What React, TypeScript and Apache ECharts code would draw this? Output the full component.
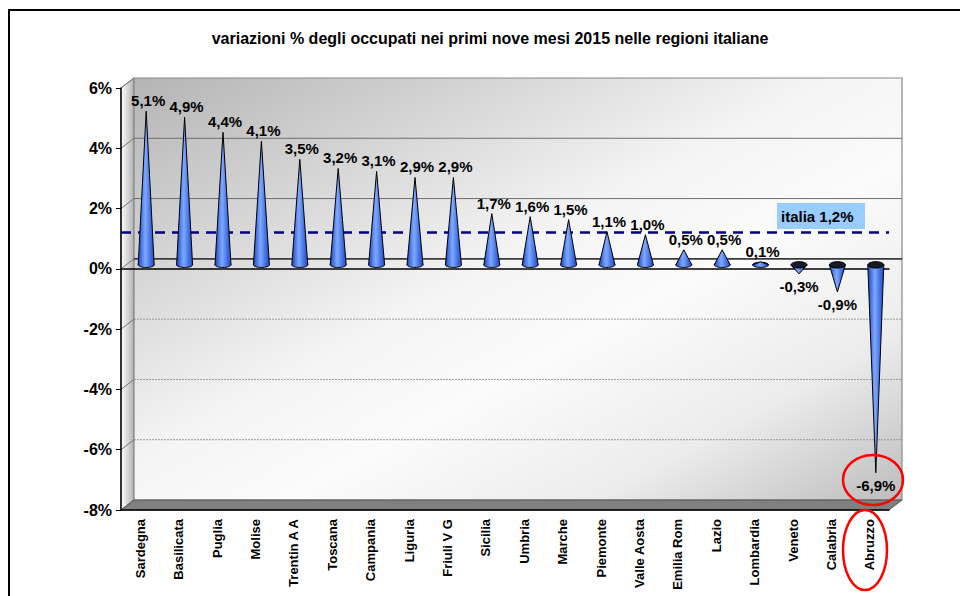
import React, { useEffect, useRef } from 'react';
import * as echarts from 'echarts';

const chartTitle = 'variazioni % degli occupati nei primi nove mesi 2015 nelle regioni italiane';
const regions = [
  'Sardegna', 'Basilicata', 'Puglia', 'Molise', 'Trentin A A', 'Toscana', 'Campania',
  'Liguria', 'Friuli V G', 'Sicilia', 'Umbria', 'Marche', 'Piemonte', 'Valle Aosta',
  'Emilia Rom', 'Lazio', 'Lombardia', 'Veneto', 'Calabria', 'Abruzzo',
];
const values = [5.1, 4.9, 4.4, 4.1, 3.5, 3.2, 3.1, 2.9, 2.9, 1.7, 1.6, 1.5, 1.1, 1.0, 0.5, 0.5, 0.1, -0.3, -0.9, -6.9];
const yTicks = [-8, -6, -4, -2, 0, 2, 4, 6];
const nationalValue = 1.2;
const nationalLabel = 'italia 1,2%';

const fmt = (v: number) => v.toFixed(1).replace('.', ',') + '%';
const FONT = "'Liberation Sans', Arial, Helvetica, sans-serif";

export default function App() {
  const ref = useRef<HTMLDivElement>(null);
  useEffect(() => {
    const chart = echarts.init(ref.current!, null, { renderer: 'svg' });
    const L = 121, R = 889, T = 88, B = 510, DX = 13, DY = -10;
    const CDX = 6, CDY = -4; // cone offset (mid depth)

    const renderItem = (params: any, api: any) => {
      const i = api.value(0);
      const v = api.value(1);
      const tip = api.coord([i, v]);
      const base = api.coord([i, 0]);
      const cx = base[0] + CDX;
      const by = base[1] + CDY;
      const ty = tip[1] + CDY;
      const r = 8, ry = 2.6;
      const grad = () => new echarts.graphic.LinearGradient(0, 0, 1, 0, [
        { offset: 0, color: '#1f3fae' },
        { offset: 0.3, color: '#5d8cf5' },
        { offset: 0.45, color: '#7fa8ff' },
        { offset: 0.75, color: '#4472e4' },
        { offset: 1, color: '#2448b8' },
      ]);
      const pts = [[cx - r, by], [cx, ty], [cx + r, by]];
      const children: any[] = [];
      if (v >= 0) {
        children.push({ type: 'ellipse', shape: { cx, cy: by, rx: r, ry }, style: { fill: grad(), stroke: '#000', lineWidth: 1 } });
        children.push({ type: 'polygon', shape: { points: pts }, style: { fill: grad() } });
        children.push({ type: 'polyline', shape: { points: pts }, style: { stroke: '#000', lineWidth: 1, fill: null } });
        children.push({
          type: 'text', x: cx + 2, y: ty - 3,
          style: { text: fmt(v), fill: '#000', fontSize: 15, fontWeight: 'bold', fontFamily: FONT, align: 'center', verticalAlign: 'bottom' },
        });
      } else {
        children.push({ type: 'polygon', shape: { points: pts }, style: { fill: grad() } });
        children.push({ type: 'polyline', shape: { points: pts }, style: { stroke: '#000', lineWidth: 1, fill: null } });
        children.push({ type: 'ellipse', shape: { cx, cy: by, rx: r, ry: ry + 0.6 }, style: { fill: '#151a2a', stroke: '#000', lineWidth: 1 } });
        children.push({
          type: 'text', x: cx, y: ty + 5,
          style: { text: fmt(v), fill: '#000', fontSize: 15, fontWeight: 'bold', fontFamily: FONT, align: 'center', verticalAlign: 'top' },
        });
      }
      return { type: 'group', children };
    };

    const option: any = {
      animation: false,
      backgroundColor: '#ffffff',
      grid: { left: L, right: 960 - R, top: T, bottom: 596 - B, containLabel: false },
      xAxis: [
        {
          type: 'category', data: regions, position: 'bottom',
          axisLine: { onZero: false, lineStyle: { color: '#000', width: 1.5 } },
          axisTick: { length: 7, lineStyle: { color: '#000', width: 1.2 } },
          axisLabel: { rotate: 90, interval: 0, margin: 9, fontSize: 13, fontWeight: 'bold', color: '#000', fontFamily: FONT },
          splitLine: { show: false },
        },
        {
          type: 'category', data: regions, position: 'bottom',
          axisLine: { onZero: true, lineStyle: { color: '#000', width: 1.5 } },
          axisTick: { length: 7, lineStyle: { color: '#000', width: 1.2 } },
          axisLabel: { show: false },
          splitLine: { show: false },
        },
      ],
      yAxis: {
        type: 'value', min: -8, max: 6, interval: 2,
        axisLine: { show: true, lineStyle: { color: '#000', width: 1.5 } },
        axisTick: { show: true, length: 5, lineStyle: { color: '#000' } },
        splitLine: { show: false },
        axisLabel: { formatter: (v: number) => v + '%', fontSize: 16, fontWeight: 'bold', color: '#000', margin: 9, fontFamily: FONT },
      },
      series: [
        {
          type: 'custom', xAxisIndex: 0, yAxisIndex: 0, z: 5,
          data: values.map((v, i) => [i, v]),
          renderItem,
        },
        {
          type: 'line', xAxisIndex: 0, yAxisIndex: 0, data: [], z: 4,
          markLine: {
            silent: true, symbol: 'none', label: { show: false },
            lineStyle: { color: '#000080', width: 2.5, type: [10, 7] },
            data: [{ yAxis: nationalValue }],
          },
        },
      ],
    };
    chart.setOption(option);

    const yPix = (v: number) => chart.convertToPixel({ yAxisIndex: 0 }, v) as number;
    const topY = yPix(6), botY = yPix(-8);
    const bx0 = L + DX, bx1 = R + DX;
    const graphics: any[] = [];
    // left wall
    graphics.push({
      type: 'polygon', z: -20,
      shape: { points: [[L, topY], [bx0, topY + DY], [bx0, botY + DY], [L, botY]] },
      style: {
        fill: new echarts.graphic.LinearGradient(0, 0, 1, 0, [
          { offset: 0, color: '#ffffff' }, { offset: 1, color: '#b0b0b0' },
        ]),
        stroke: '#888', lineWidth: 1,
      },
    });
    // back wall
    graphics.push({
      type: 'rect', z: -20,
      shape: { x: bx0, y: topY + DY, width: bx1 - bx0, height: botY - topY },
      style: {
        fill: new echarts.graphic.LinearGradient(0, 0, 1, 1, [
          { offset: 0, color: '#b4b4b4' },
          { offset: 0.45, color: '#f4f4f4' },
          { offset: 0.6, color: '#fbfbfb' },
          { offset: 0.8, color: '#ececec' },
          { offset: 1, color: '#bdbdbd' },
        ]),
        stroke: '#888', lineWidth: 1.2,
      },
    });
    // back grid lines + diagonals
    yTicks.forEach((t) => {
      const y = yPix(t);
      if (t !== 6 && t !== -8) {
        graphics.push({
          type: 'line', z: -15,
          shape: { x1: bx0, y1: y + DY, x2: bx1, y2: y + DY },
          style: t === 0
            ? { stroke: '#3a3a3a', lineWidth: 1.6 }
            : t > 0
              ? { stroke: '#6e6e6e', lineWidth: 1 }
              : { stroke: '#9a9a9a', lineWidth: 1, lineDash: [2, 1] },
        });
      }
      graphics.push({
        type: 'line', z: -14,
        shape: { x1: L, y1: y, x2: bx0, y2: y + DY },
        style: { stroke: '#777', lineWidth: 1 },
      });
    });
    // floor
    graphics.push({
      type: 'polygon', z: -12,
      shape: { points: [[L, botY], [bx0, botY + DY], [bx1, botY + DY], [R, botY]] },
      style: { fill: '#808080', stroke: '#555', lineWidth: 1 },
    });
    // title
    graphics.push({
      type: 'text', z: 50, x: 490, y: 38,
      style: { text: chartTitle, fill: '#000', fontSize: 16, fontWeight: 'bold', fontFamily: FONT, align: 'center', verticalAlign: 'middle' },
    });
    // italia label box
    graphics.push({
      type: 'rect', z: 50,
      shape: { x: 777, y: 203, width: 88, height: 26 },
      style: { fill: '#99ccff' },
    });
    graphics.push({
      type: 'text', z: 51, x: 781, y: 216,
      style: { text: nationalLabel, fill: '#000', fontSize: 15, fontWeight: 'bold', fontFamily: FONT, align: 'left', verticalAlign: 'middle' },
    });
    // red highlight ellipses
    graphics.push({
      type: 'ellipse', z: 60,
      shape: { cx: 873, cy: 480, rx: 30, ry: 25 },
      style: { fill: null, stroke: '#ff0000', lineWidth: 2.5 },
    });
    graphics.push({
      type: 'ellipse', z: 60,
      shape: { cx: 865, cy: 550, rx: 22, ry: 40 },
      style: { fill: null, stroke: '#ff0000', lineWidth: 2.5 },
    });
    // outer frame
    graphics.push({
      type: 'rect', z: 70,
      shape: { x: 9, y: 10, width: 1000, height: 700 },
      style: { fill: null, stroke: '#000', lineWidth: 2 },
    });
    chart.setOption({ graphic: graphics });

    return () => chart.dispose();
  }, []);

  return (
    <div
      ref={ref}
      style={{ position: 'absolute', left: 0, top: 0, width: 960, height: 596, background: '#fff' }}
    />
  );
}
